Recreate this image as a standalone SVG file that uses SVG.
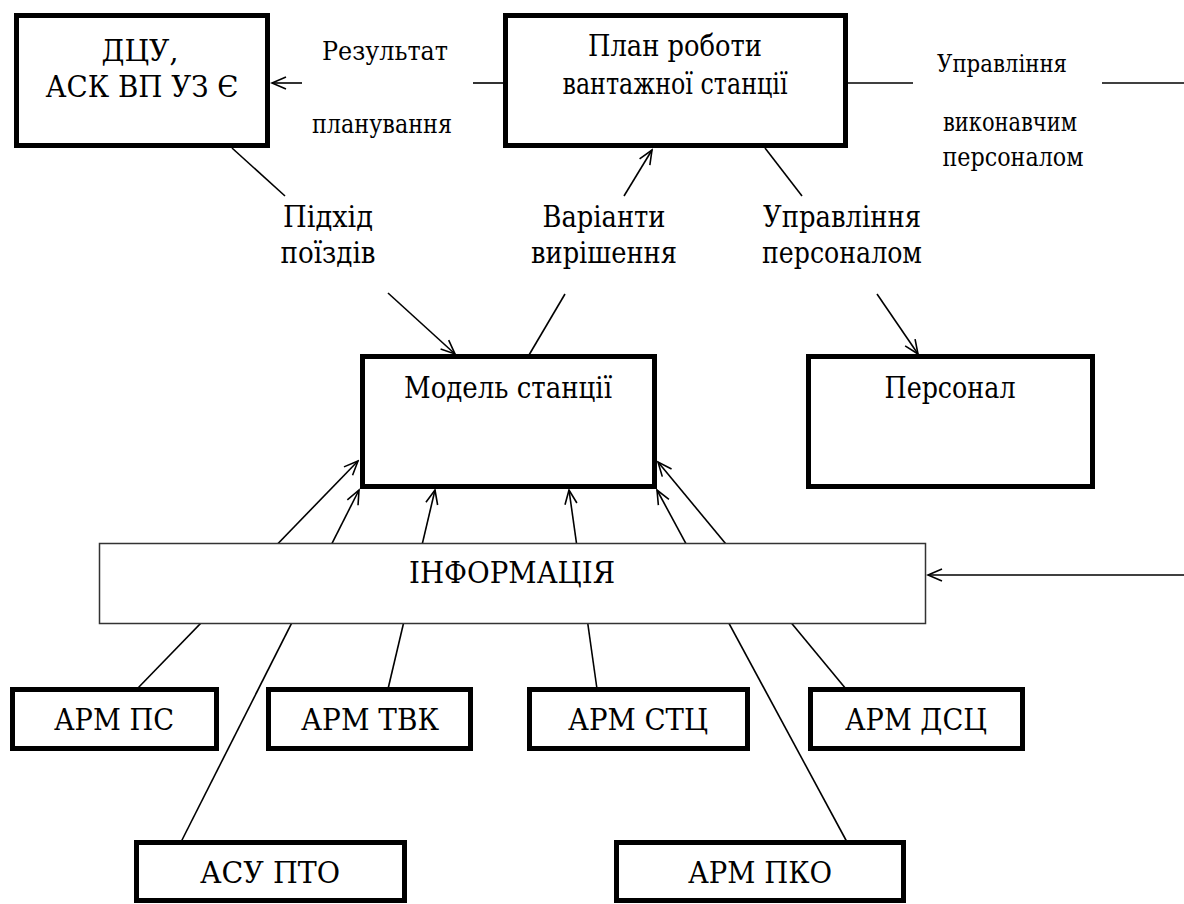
<svg xmlns="http://www.w3.org/2000/svg" width="1184" height="904" viewBox="0 0 1184 904">
<style>
text{font-family:"DejaVu Serif Condensed","DejaVu Serif","Liberation Serif",serif;fill:#000;text-anchor:middle}
.t32{font-size:30px}
.t28{font-size:26px}
.t26{font-size:24px}
.box{fill:#fff;stroke:#000;stroke-width:5}
.info{fill:#fff;stroke:#333;stroke-width:1.5}
.ln{stroke:#000;stroke-width:1.6;fill:none}
</style>
<defs>
<marker id="arr" markerWidth="18" markerHeight="16" refX="16" refY="8" orient="auto" markerUnits="userSpaceOnUse">
<path d="M2,2 L16,8 L2,14" fill="none" stroke="#000" stroke-width="1.6"/>
</marker>
</defs>
<rect width="1184" height="904" fill="#fff"/>
<g id="connectors">
<line class="ln" x1="302" y1="83" x2="272" y2="83" marker-end="url(#arr)"/>
<line class="ln" x1="473" y1="83" x2="505" y2="83"/>
<line class="ln" x1="846" y1="83" x2="913" y2="83"/>
<line class="ln" x1="1102" y1="83" x2="1184" y2="83"/>
<line class="ln" x1="232" y1="148" x2="285" y2="196"/>
<line class="ln" x1="388" y1="293" x2="455" y2="354" marker-end="url(#arr)"/>
<line class="ln" x1="624" y1="196" x2="652" y2="150" marker-end="url(#arr)"/>
<line class="ln" x1="565" y1="294" x2="529" y2="355"/>
<line class="ln" x1="765" y1="148" x2="802" y2="196"/>
<line class="ln" x1="877" y1="294" x2="918" y2="354" marker-end="url(#arr)"/>
<line class="ln" x1="137" y1="689" x2="358" y2="461" marker-end="url(#arr)"/>
<line class="ln" x1="181" y1="842" x2="359" y2="490" marker-end="url(#arr)"/>
<line class="ln" x1="388" y1="689" x2="435" y2="490" marker-end="url(#arr)"/>
<line class="ln" x1="597" y1="689" x2="569" y2="490" marker-end="url(#arr)"/>
<line class="ln" x1="847" y1="842" x2="657" y2="490" marker-end="url(#arr)"/>
<line class="ln" x1="846" y1="689" x2="658" y2="462" marker-end="url(#arr)"/>
<line class="ln" x1="1184" y1="575" x2="928" y2="575" marker-end="url(#arr)"/>
</g>
<g id="labels">
<text class="t28" x="385" y="60" textLength="126" lengthAdjust="spacingAndGlyphs">Результат</text>
<text class="t28" x="382" y="133" textLength="140" lengthAdjust="spacingAndGlyphs">планування</text>
<text class="t26" x="1002" y="72" textLength="130" lengthAdjust="spacingAndGlyphs">Управління</text>
<text class="t28" x="1010" y="131" textLength="134" lengthAdjust="spacingAndGlyphs">виконавчим</text>
<text class="t28" x="1013" y="166" textLength="141" lengthAdjust="spacingAndGlyphs">персоналом</text>
<text class="t32" x="328" y="227" textLength="90" lengthAdjust="spacingAndGlyphs">Підхід</text>
<text class="t32" x="328" y="263" textLength="95" lengthAdjust="spacingAndGlyphs">поїздів</text>
<text class="t32" x="604" y="227" textLength="123" lengthAdjust="spacingAndGlyphs">Варіанти</text>
<text class="t32" x="604" y="263" textLength="146" lengthAdjust="spacingAndGlyphs">вирішення</text>
<text class="t32" x="842" y="227" textLength="158" lengthAdjust="spacingAndGlyphs">Управління</text>
<text class="t32" x="842" y="263" textLength="160" lengthAdjust="spacingAndGlyphs">персоналом</text>
</g>
<g id="node-dcu">
<rect class="box" x="16.5" y="15.5" width="251" height="130"/>
<text class="t32" x="140" y="61" textLength="77" lengthAdjust="spacingAndGlyphs">ДЦУ,</text>
<text class="t32" x="142" y="97" textLength="193" lengthAdjust="spacingAndGlyphs">АСК ВП УЗ Є</text>
</g>
<g id="node-plan">
<rect class="box" x="505.5" y="15.5" width="340" height="130"/>
<text class="t32" x="675" y="56" textLength="174" lengthAdjust="spacingAndGlyphs">План роботи</text>
<text class="t32" x="675" y="94" textLength="225" lengthAdjust="spacingAndGlyphs">вантажної станції</text>
</g>
<g id="node-model">
<rect class="box" x="362.5" y="356.5" width="292" height="130"/>
<text class="t32" x="508" y="398" textLength="208" lengthAdjust="spacingAndGlyphs">Модель станції</text>
</g>
<g id="node-personnel">
<rect class="box" x="808.5" y="356.5" width="284" height="130"/>
<text class="t32" x="950" y="398" textLength="131" lengthAdjust="spacingAndGlyphs">Персонал</text>
</g>
<g id="node-info">
<rect class="info" x="99.5" y="543.5" width="826" height="80"/>
<text class="t32" x="512" y="583" textLength="206" lengthAdjust="spacingAndGlyphs">ІНФОРМАЦІЯ</text>
</g>
<g id="node-arm-ps">
<rect class="box" x="12.5" y="689.5" width="204" height="59"/>
<text class="t32" x="114" y="730" textLength="120" lengthAdjust="spacingAndGlyphs">АРМ ПС</text>
</g>
<g id="node-arm-tvk">
<rect class="box" x="268.5" y="689.5" width="202" height="59"/>
<text class="t32" x="370" y="730" textLength="138" lengthAdjust="spacingAndGlyphs">АРМ ТВК</text>
</g>
<g id="node-arm-stc">
<rect class="box" x="529.5" y="689.5" width="218" height="59"/>
<text class="t32" x="638" y="730" textLength="140" lengthAdjust="spacingAndGlyphs">АРМ СТЦ</text>
</g>
<g id="node-arm-dsc">
<rect class="box" x="810.5" y="689.5" width="212" height="59"/>
<text class="t32" x="916" y="730" textLength="142" lengthAdjust="spacingAndGlyphs">АРМ ДСЦ</text>
</g>
<g id="node-asu-pto">
<rect class="box" x="136.5" y="842.5" width="268" height="58"/>
<text class="t32" x="270" y="883" textLength="140" lengthAdjust="spacingAndGlyphs">АСУ ПТО</text>
</g>
<g id="node-arm-pko">
<rect class="box" x="616.5" y="842.5" width="287" height="58"/>
<text class="t32" x="760" y="883" textLength="144" lengthAdjust="spacingAndGlyphs">АРМ ПКО</text>
</g>
</svg>
